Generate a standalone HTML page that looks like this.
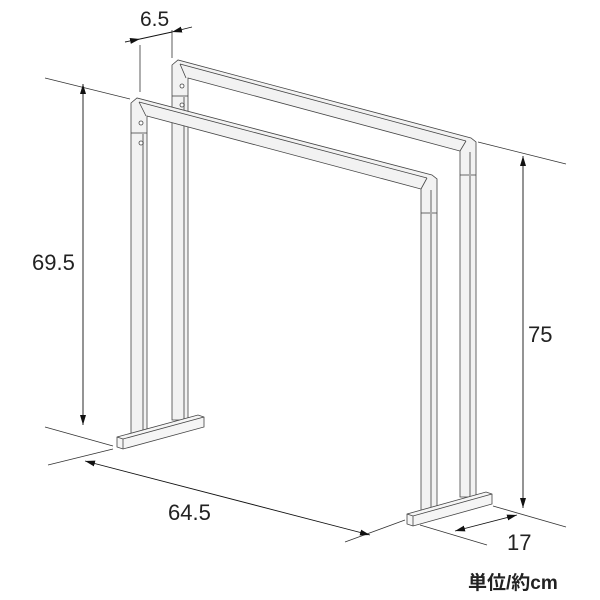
<!DOCTYPE html>
<html><head><meta charset="utf-8"><style>
html,body{margin:0;padding:0;background:#fff;}
svg{display:block;}
text{font-family:"Liberation Sans","Noto Sans CJK JP",sans-serif;fill:#222;}
</style></head><body>
<svg width="600" height="600" viewBox="0 0 600 600" xmlns="http://www.w3.org/2000/svg">
<defs>
<marker id="a" viewBox="0 0 10 6" refX="10" refY="3" markerWidth="10" markerHeight="6" orient="auto-start-reverse" markerUnits="userSpaceOnUse">
<path d="M0,0 L10,3 L0,6 Z" fill="#111"/></marker>
</defs>
<g stroke="#333" stroke-width="0.8" fill="none">
<!-- extension lines -->
<line x1="140" y1="45" x2="140" y2="92"/>
<line x1="172" y1="30" x2="172" y2="58"/>
<line x1="45" y1="78" x2="130" y2="99"/>
<line x1="478" y1="142" x2="566" y2="164"/>
<line x1="45" y1="427" x2="113" y2="446"/>
<line x1="48" y1="465" x2="113" y2="449"/>
<line x1="345" y1="542" x2="405" y2="520"/>
<line x1="493" y1="506" x2="566" y2="527"/>
<line x1="420" y1="525" x2="487" y2="545"/>
</g>
<g stroke="#111" stroke-width="0.9" fill="none">
<line x1="125" y1="42" x2="140" y2="39" marker-end="url(#a)"/>
<line x1="140" y1="39" x2="172" y2="32"/>
<line x1="192" y1="27" x2="172" y2="32" marker-end="url(#a)"/>
<line x1="83" y1="84" x2="83" y2="425" marker-start="url(#a)" marker-end="url(#a)"/>
<line x1="85" y1="461" x2="370" y2="535" marker-start="url(#a)" marker-end="url(#a)"/>
<line x1="523" y1="156" x2="523" y2="508" marker-start="url(#a)" marker-end="url(#a)"/>
<line x1="455" y1="531" x2="517" y2="515" marker-start="url(#a)" marker-end="url(#a)"/>
</g>
<!-- back frame -->
<g stroke="#444" stroke-width="0.8" fill="#f2f2f2">
<polygon points="172,420 172,65 178,60 471,138 476,142 476,497 460,497 460,151 188,78 188,420"/>
<line x1="180" y1="64" x2="186" y2="78" />
<line x1="180" y1="64" x2="466" y2="141" />
<line x1="466" y1="141" x2="460" y2="151" />
<line x1="172" y1="96" x2="188" y2="96"/>
<line x1="460" y1="175" x2="476" y2="175"/>
<line x1="184" y1="96" x2="184" y2="420" stroke="#aaa" stroke-width="2"/>
<line x1="470" y1="152" x2="470" y2="497" stroke="#aaa" stroke-width="2"/>
<circle cx="182" cy="86" r="2" fill="#fff"/>
<circle cx="182" cy="105" r="2" fill="#fff"/>
</g>
<!-- front frame -->
<g stroke="#444" stroke-width="0.8" fill="#f2f2f2">
<polygon points="131,438 131,103 137,98 432,175 437,179 437,515 421,515 421,189 147,116 147,438"/>
<line x1="139" y1="102" x2="146" y2="116"/>
<line x1="139" y1="102" x2="427" y2="178"/>
<line x1="427" y1="178" x2="421" y2="189"/>
<line x1="131" y1="133" x2="147" y2="133"/>
<line x1="421" y1="213" x2="437" y2="213"/>
<line x1="143" y1="134" x2="143" y2="438" stroke="#aaa" stroke-width="2"/>
<line x1="431" y1="190" x2="431" y2="515" stroke="#aaa" stroke-width="2"/>
<circle cx="141" cy="123" r="2" fill="#fff"/>
<circle cx="141" cy="143" r="2" fill="#fff"/>
</g>
<!-- bases -->
<g stroke="#444" stroke-width="0.8" fill="#f5f5f5">
<polygon points="117,437 198,415 204,417 204,427 123,449 117,447"/>
<polyline points="117,437 123,439 204,417" fill="none"/>
<line x1="123" y1="439" x2="123" y2="449"/>
<polygon points="407,514 486,492 492,494 492,504 413,526 407,524"/>
<polyline points="407,514 413,516 492,494" fill="none"/>
<line x1="413" y1="516" x2="413" y2="526"/>
</g>
<text x="140" y="26" font-size="21">6.5</text>
<text x="32" y="270" font-size="22">69.5</text>
<text x="168" y="520" font-size="22">64.5</text>
<text x="528" y="342" font-size="22">75</text>
<text x="507" y="550" font-size="22">17</text>
<text x="468" y="589" font-size="19" font-weight="bold">単位/約cm</text>
</svg>
</body></html>
